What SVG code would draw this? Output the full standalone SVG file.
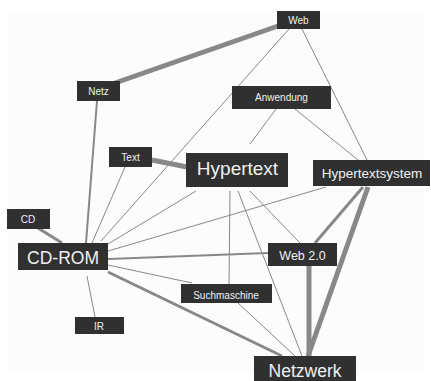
<svg xmlns="http://www.w3.org/2000/svg" width="431" height="381" viewBox="0 0 431 381">
  <style>
    .edge { stroke: #888; fill: none; stroke-linecap: butt; }
    .w1 { stroke-width: 1; }
    .w2 { stroke-width: 2; }
    .w3 { stroke-width: 3; }
    .w5 { stroke-width: 5; }
    .node rect { fill: #303030; }
    .node text { fill: #f0f0f0; font-family: "Liberation Sans", Arial, sans-serif; text-anchor: middle; }
  </style>

  <rect x="0" y="0" width="431" height="381" fill="#ffffff"/>
  <rect x="7" y="10" width="417" height="364" fill="#fcfcfc"/>

  <!-- connectors -->
  <g id="edges">
    <line class="edge w5" x1="115" y1="83" x2="278" y2="26"/>
    <line class="edge w1" x1="289" y1="29" x2="101" y2="241"/>
    <line class="edge w1" x1="302" y1="29" x2="367" y2="160"/>
    <line class="edge w1" x1="276" y1="109" x2="250" y2="144"/>
    <line class="edge w1" x1="295" y1="109" x2="358" y2="160"/>
    <line class="edge w2" x1="97" y1="101" x2="86" y2="243"/>
    <line class="edge w5" x1="152" y1="160" x2="187" y2="167"/>
    <line class="edge w1" x1="125" y1="167" x2="92" y2="243"/>
    <line class="edge w3" x1="38" y1="228" x2="62" y2="243"/>
    <line class="edge w1" x1="87" y1="276" x2="95" y2="317"/>
    <line class="edge w1" x1="108" y1="244" x2="196" y2="191"/>
    <line class="edge w1" x1="108" y1="251" x2="326" y2="187"/>
    <line class="edge w2" x1="108" y1="259" x2="268" y2="253"/>
    <line class="edge w1" x1="108" y1="265" x2="192" y2="283"/>
    <line class="edge w3" x1="108" y1="272" x2="282" y2="356"/>
    <line class="edge w1" x1="230" y1="191" x2="229" y2="284"/>
    <line class="edge w1" x1="238" y1="191" x2="302" y2="356"/>
    <line class="edge w1" x1="250" y1="191" x2="300" y2="243"/>
    <line class="edge w1" x1="238" y1="303" x2="295" y2="356"/>
    <line class="edge w5" x1="309" y1="266" x2="309" y2="356"/>
    <line class="edge w5" x1="368" y1="187" x2="308" y2="356"/>
    <line class="edge w3" x1="363" y1="187" x2="315" y2="243"/>
  </g>

  <!-- nodes -->
  <g id="node-web" class="node">
    <rect x="277" y="11" width="43" height="18"/>
    <text x="298.5" y="24" font-size="10">Web</text>
  </g>
  <g id="node-netz" class="node">
    <rect x="77" y="81" width="43" height="20"/>
    <text x="98.5" y="95" font-size="10">Netz</text>
  </g>
  <g id="node-anwendung" class="node">
    <rect x="232" y="86" width="99" height="23"/>
    <text x="281.5" y="101" font-size="10">Anwendung</text>
  </g>
  <g id="node-text" class="node">
    <rect x="109" y="147" width="43" height="20"/>
    <text x="130.5" y="161" font-size="10">Text</text>
  </g>
  <g id="node-hypertext" class="node">
    <rect x="186" y="153" width="102" height="34"/>
    <text x="237.5" y="175" font-size="19">Hypertext</text>
  </g>
  <g id="node-hypertextsystem" class="node">
    <rect x="313" y="160" width="117" height="26"/>
    <text x="372" y="178" font-size="13.5">Hypertextsystem</text>
  </g>
  <g id="node-cd" class="node">
    <rect x="7" y="209" width="43" height="20"/>
    <text x="28" y="223" font-size="10">CD</text>
  </g>
  <g id="node-cdrom" class="node">
    <rect x="18" y="243" width="90" height="27"/>
    <text x="63" y="264" font-size="17.5">CD-ROM</text>
  </g>
  <g id="node-ir" class="node">
    <rect x="75" y="317" width="49" height="17"/>
    <text x="99" y="330" font-size="10">IR</text>
  </g>
  <g id="node-suchmaschine" class="node">
    <rect x="181" y="284" width="91" height="19"/>
    <text x="226" y="298.5" font-size="10">Suchmaschine</text>
  </g>
  <g id="node-web20" class="node">
    <rect x="268" y="243" width="69" height="23"/>
    <text x="302.5" y="259.5" font-size="12.5">Web 2.0</text>
  </g>
  <g id="node-netzwerk" class="node">
    <rect x="254" y="356" width="102" height="28"/>
    <text x="305" y="377" font-size="17.5">Netzwerk</text>
  </g>
</svg>
